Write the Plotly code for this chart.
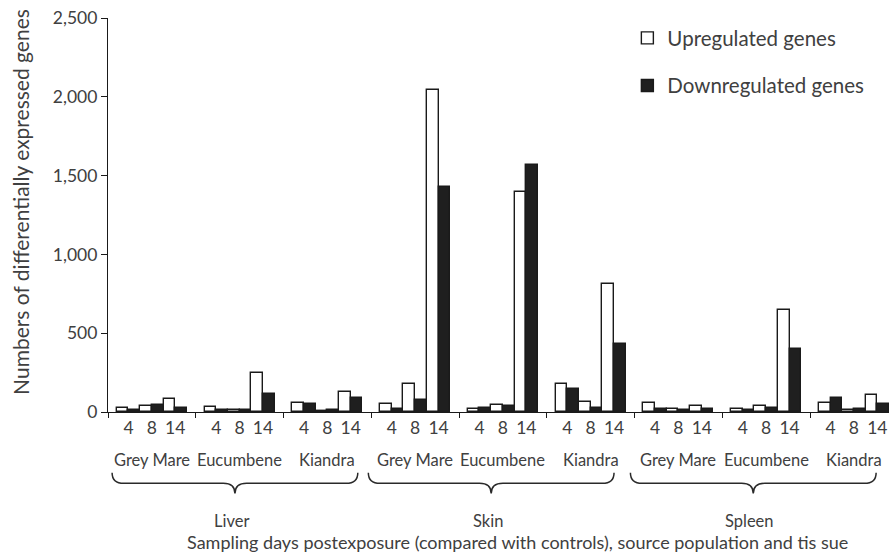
import plotly.graph_objects as go

# ---------------- data ----------------
tissues = ["Liver", "Skin", "Spleen"]
populations = ["Grey Mare", "Eucumbene", "Kiandra"]
days = ["4", "8", "14"]

# values ordered tissue -> population -> day
upregulated = [
    27, 35, 84,     33, 14, 245,    60, 7, 130,      # Liver
    48, 177, 2045,  16, 46, 1395,   180, 63, 810,    # Skin
    56, 20, 37,     20, 35, 650,    54, 12, 105,     # Spleen
]
downregulated = [
    15, 46, 24,     14, 15, 116,    50, 15, 90,      # Liver
    22, 77, 1430,   24, 37, 1570,   143, 27, 430,    # Skin
    16, 14, 22,     14, 24, 400,    90, 18, 48,      # Spleen
]

y_ticks = [0, 500, 1000, 1500, 2000, 2500]

# ---------------- layout helpers ----------------
PITCH = 3.75          # one population group (3 day pairs + gap)
FONT = "Lato, Carlito, Calibri, sans-serif"
TXT = "#404040"

n_groups = len(tissues) * len(populations)
xpos, xlab = [], []
for g in range(n_groups):
    for d, lab in enumerate(days):
        xpos.append(g * PITCH + d)
        xlab.append(lab)

boundaries = [g * PITCH - 0.875 for g in range(n_groups + 1)]

fig = go.Figure()
fig.add_trace(go.Bar(
    x=xpos, y=upregulated, name="Upregulated genes", legendgroup="up",
    marker=dict(color="white", line=dict(color="#1a1a1a", width=1.4)),
))
fig.add_trace(go.Bar(
    x=xpos, y=downregulated, name="Downregulated genes", legendgroup="down",
    marker=dict(color="#1f1f1f", line=dict(color="#1a1a1a", width=1.4)),
))

annotations = []
# population labels
for t in range(len(tissues)):
    for p, pop in enumerate(populations):
        g = t * 3 + p
        annotations.append(dict(
            x=g * PITCH + 1, y=-0.123, xref="x", yref="paper", text=pop,
            showarrow=False, font=dict(family=FONT, size=16.5, color=TXT),
            xanchor="center", yanchor="middle"))

# braces + tissue labels
offsets = [-0.2, -0.5, -0.55]
HALF = 5.25
y_top, y_mid, y_tip = -0.154, -0.181, -0.207
shapes = []
for t, tis in enumerate(tissues):
    c = t * 3 * PITCH + 4.75 + offsets[t]
    xl, xr = c - HALF, c + HALF
    r = 0.5
    path = (f"M {xl},{y_top} Q {xl},{y_mid} {xl + r},{y_mid} "
            f"L {c - r},{y_mid} Q {c},{y_mid} {c},{y_tip} "
            f"Q {c},{y_mid} {c + r},{y_mid} "
            f"L {xr - r},{y_mid} Q {xr},{y_mid} {xr},{y_top}")
    shapes.append(dict(type="path", path=path, xref="x", yref="paper",
                       line=dict(color="#2a2a2a", width=1.5)))
    annotations.append(dict(
        x=c - 0.15, y=-0.2754, xref="x", yref="paper", text=tis,
        showarrow=False, font=dict(family=FONT, size=16.5, color=TXT),
        xanchor="center", yanchor="middle"))

annotations.append(dict(
    x=0.524, y=-0.3312, xref="paper", yref="paper",
    text="Sampling days postexposure (compared with controls), source population and tis sue",
    showarrow=False, font=dict(family=FONT, size=18, color=TXT),
    xanchor="center", yanchor="middle"))

annotations.append(dict(
    x=-0.112, y=0.532, xref="paper", yref="paper",
    text="Numbers of differentially expressed genes", textangle=-90,
    showarrow=False, font=dict(family=FONT, size=21, color=TXT),
    xanchor="center", yanchor="middle"))

fig.update_layout(
    width=889, height=553,
    margin=dict(l=108, r=0, t=18, b=141),
    paper_bgcolor="white", plot_bgcolor="white",
    barmode="group", bargap=0, bargroupgap=0,
    font=dict(family=FONT, color=TXT, size=17.5),
    showlegend=True,
    legend=dict(x=0.665, y=1.0, xanchor="left", yanchor="top",
                bgcolor="rgba(0,0,0,0)", font=dict(family=FONT, size=20.5, color=TXT),
                tracegroupgap=18, traceorder="grouped"),
    annotations=annotations,
    shapes=shapes,
)

fig.update_xaxes(
    range=[boundaries[0], 32.5], automargin=False,
    tickmode="array", tickvals=xpos, ticktext=xlab, ticks="",
    showline=True, linecolor="#1a1a1a", linewidth=1.2,
    showgrid=False, zeroline=False,
    tickfont=dict(family=FONT, size=17.5, color=TXT),
    minor=dict(tickmode="array", tickvals=boundaries, ticks="outside",
               ticklen=5, tickcolor="#1a1a1a", tickwidth=1.2, showgrid=False),
)
fig.update_yaxes(
    range=[0, 2500], tickmode="array", tickvals=y_ticks, tickformat=",",
    automargin=False,
    ticks="outside", ticklen=6, tickcolor="#1a1a1a", tickwidth=1.2,
    showline=True, linecolor="#1a1a1a", linewidth=1.2,
    showgrid=False, zeroline=False,
    tickfont=dict(family=FONT, size=17.5, color=TXT),
)

fig.write_html("out.html", config={"displayModeBar": False},
               post_script="document.body.style.margin='0';document.body.style.overflow='hidden';")
